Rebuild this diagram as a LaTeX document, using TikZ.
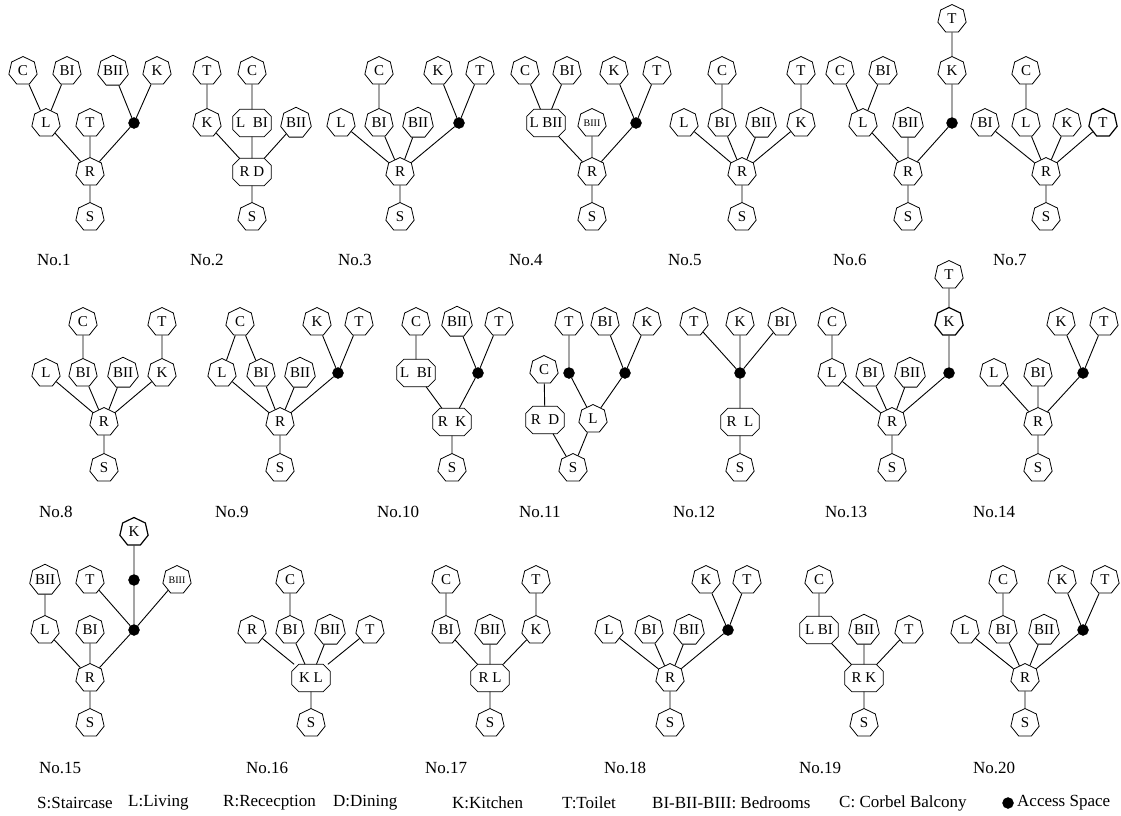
\documentclass[tikz,border=0pt]{standalone}
\usepackage{fontspec}
\setmainfont{Liberation Serif}
\usetikzlibrary{shapes.geometric}
\tikzset{
  rm/.style={regular polygon, regular polygon sides=7, draw, line width=0.8pt, inner sep=0pt, minimum size=29pt, font=\fontsize{15}{15}\selectfont},
  wide/.style={rectangle, inner sep=1.5pt, minimum width=38pt, minimum height=27pt, font=\fontsize{15}{15}\selectfont},
  wideline/.style={line width=0.8pt},
  acc/.style={circle, fill=black, draw=black, inner sep=0pt, minimum size=11pt},
  sm/.style={font=\fontsize{10}{10}\selectfont},
  bold/.style={line width=1.2pt},
  lab/.style={anchor=west, inner sep=0pt, font=\fontsize{17}{17}\selectfont},
  leg/.style={anchor=west, inner sep=0pt, font=\fontsize{17}{17}\selectfont},
  edge/.style={line width=0.9pt}
}
\begin{document}
\begin{tikzpicture}[x=1pt,y=-1pt]
\useasboundingbox (0,0) rectangle (1121,816);
% ---------- No.1
\node[rm] (aC) at (23,71) {C};
\node[rm] (aBI) at (67,71) {BI};
\node[rm] (aBII) at (113,71) {BII};
\node[rm] (aK) at (157,71) {K};
\node[rm] (aL) at (46,123) {L};
\node[rm] (aT) at (90,123) {T};
\node[acc] (aX) at (134,123) {};
\node[rm] (aR) at (90,172) {R};
\node[rm] (aS) at (90,217) {S};
\draw[edge] (aC)--(aL) (aBI)--(aL) (aBII)--(aX) (aK)--(aX) (aL)--(aR) (aT)--(aR) (aX)--(aR) (aR)--(aS);
\node[lab] (la) at (37,260) {No.1};
% ---------- No.2
\node[rm] (bT) at (207,71) {T};
\node[rm] (bC) at (252,71) {C};
\node[rm] (bK) at (207,123) {K};
\node[wide] (bLB) at (252,123) {L\ \ BI};
\node[rm] (bBII) at (296,123) {BII};
\node[wide] (bRD) at (252,172) {R D};
\node[rm] (bS) at (252,217) {S};
\draw[edge] (bT)--(bK) (bC)--(bLB) (bK)--(bRD) (bLB)--(bRD) (bBII)--(bRD) (bRD)--(bS);
\node[lab] (lb) at (190,260) {No.2};
% ---------- No.3
\node[rm] (cC) at (379,71) {C};
\node[rm] (cK) at (438,71) {K};
\node[rm] (cT) at (480,71) {T};
\node[rm] (cL) at (341,123) {L};
\node[rm] (cBI) at (379,123) {BI};
\node[rm] (cBII) at (418,123) {BII};
\node[acc] (cX) at (459,123) {};
\node[rm] (cR) at (400,172) {R};
\node[rm] (cS) at (400,217) {S};
\draw[edge] (cC)--(cBI) (cK)--(cX) (cT)--(cX) (cL)--(cR) (cBI)--(cR) (cBII)--(cR) (cX)--(cR) (cR)--(cS);
\node[lab] (lc) at (338,260) {No.3};
% ---------- No.4
\node[rm] (dC) at (525,71) {C};
\node[rm] (dBI) at (567,71) {BI};
\node[rm] (dK) at (614,71) {K};
\node[rm] (dT) at (657,71) {T};
\node[wide] (dLB) at (546,123) {L BII};
\node[rm,sm] (dBIII) at (592,123) {BIII};
\node[acc] (dX) at (636,123) {};
\node[rm] (dR) at (592,172) {R};
\node[rm] (dS) at (592,217) {S};
\draw[edge] (dC)--(dLB) (dBI)--(dLB) (dK)--(dX) (dT)--(dX) (dLB)--(dR) (dBIII)--(dR) (dX)--(dR) (dR)--(dS);
\node[lab] (ld) at (509,260) {No.4};
% ---------- No.5
\node[rm] (eC) at (722,71) {C};
\node[rm] (eT) at (801,71) {T};
\node[rm] (eL) at (684,123) {L};
\node[rm] (eBI) at (722,123) {BI};
\node[rm] (eBII) at (761,123) {BII};
\node[rm] (eK) at (801,123) {K};
\node[rm] (eR) at (742,172) {R};
\node[rm] (eS) at (742,217) {S};
\draw[edge] (eC)--(eBI) (eT)--(eK) (eL)--(eR) (eBI)--(eR) (eBII)--(eR) (eK)--(eR) (eR)--(eS);
\node[lab] (le) at (668,260) {No.5};
% ---------- No.6
\node[rm] (fT) at (952,19) {T};
\node[rm] (fC) at (840,71) {C};
\node[rm] (fBI) at (883,71) {BI};
\node[rm] (fK) at (952,71) {K};
\node[rm] (fL) at (863,123) {L};
\node[rm] (fBII) at (908,123) {BII};
\node[acc] (fX) at (952,123) {};
\node[rm] (fR) at (908,172) {R};
\node[rm] (fS) at (908,217) {S};
\draw[edge] (fT)--(fK) (fK)--(fX) (fC)--(fL) (fBI)--(fL) (fL)--(fR) (fBII)--(fR) (fX)--(fR) (fR)--(fS);
\node[lab] (lf) at (833,260) {No.6};
% ---------- No.7
\node[rm] (gC) at (1026,71) {C};
\node[rm] (gBI) at (985,123) {BI};
\node[rm] (gL) at (1026,123) {L};
\node[rm] (gK) at (1067,123) {K};
\node[rm,bold] (gT) at (1103,123) {T};
\node[rm] (gR) at (1046,172) {R};
\node[rm] (gS) at (1046,217) {S};
\draw[edge] (gC)--(gL) (gBI)--(gR) (gL)--(gR) (gK)--(gR) (gT)--(gR) (gR)--(gS);
\node[lab] (lg) at (993,260) {No.7};
% ---------- No.8
\node[rm] (hC) at (83,322) {C};
\node[rm] (hT) at (162,322) {T};
\node[rm] (hL) at (46,373) {L};
\node[rm] (hBI) at (83,373) {BI};
\node[rm] (hBII) at (123,373) {BII};
\node[rm] (hK) at (162,373) {K};
\node[rm] (hR) at (104,422) {R};
\node[rm] (hS) at (104,468) {S};
\draw[edge] (hC)--(hBI) (hT)--(hK) (hL)--(hR) (hBI)--(hR) (hBII)--(hR) (hK)--(hR) (hR)--(hS);
\node[lab] (lh) at (39,512) {No.8};
% ---------- No.9
\node[rm] (iC) at (240,322) {C};
\node[rm] (iK) at (317,322) {K};
\node[rm] (iT) at (359,322) {T};
\node[rm] (iL) at (222,373) {L};
\node[rm] (iBI) at (261,373) {BI};
\node[rm] (iBII) at (300,373) {BII};
\node[acc] (iX) at (338,373) {};
\node[rm] (iR) at (280,422) {R};
\node[rm] (iS) at (280,468) {S};
\draw[edge] (iC)--(iL) (iC)--(iBI) (iK)--(iX) (iT)--(iX) (iL)--(iR) (iBI)--(iR) (iBII)--(iR) (iX)--(iR) (iR)--(iS);
\node[lab] (li) at (215,512) {No.9};
% ---------- No.10
\node[rm] (jC) at (416,322) {C};
\node[rm] (jBII) at (457,322) {BII};
\node[rm] (jT) at (499,322) {T};
\node[wide] (jLB) at (416,373) {L\ \ BI};
\node[acc] (jX) at (478,373) {};
\node[wide] (jRK) at (452,422) {R\ \ K};
\node[rm] (jS) at (452,468) {S};
\draw[edge] (jC)--(jLB) (jBII)--(jX) (jT)--(jX) (jLB)--(jRK) (jX)--(jRK) (jRK)--(jS);
\node[lab] (lj) at (377,512) {No.10};
% ---------- No.11
\node[rm] (kT) at (569,322) {T};
\node[rm] (kBI) at (605,322) {BI};
\node[rm] (kK) at (647,322) {K};
\node[rm] (kC) at (544,370) {C};
\node[acc] (kX1) at (569,373) {};
\node[acc] (kX2) at (625,373) {};
\node[wide] (kRD) at (545,420) {R\ \ D};
\node[rm] (kL) at (593,419) {L};
\node[rm] (kS) at (573,468) {S};
\draw[edge] (kT)--(kX1) (kBI)--(kX2) (kK)--(kX2) (kX1)--(kL) (kX2)--(kL) (kC)--(kRD) (kRD)--(kS) (kL)--(kS);
\node[lab] (lk) at (519,512) {No.11};
% ---------- No.12
\node[rm] (lT) at (694,322) {T};
\node[rm] (lK) at (740,322) {K};
\node[rm] (lBI) at (782,322) {BI};
\node[acc] (lX) at (740,373) {};
\node[wide] (lRL) at (740,422) {R\ \ L};
\node[rm] (lS) at (740,468) {S};
\draw[edge] (lT)--(lX) (lK)--(lX) (lBI)--(lX) (lX)--(lRL) (lRL)--(lS);
\node[lab] (ll) at (673,512) {No.12};
% ---------- No.13
\node[rm] (mT) at (949,275) {T};
\node[rm] (mC) at (832,322) {C};
\node[rm,bold] (mK) at (949,322) {K};
\node[rm] (mL) at (832,373) {L};
\node[rm] (mBI) at (870,373) {BI};
\node[rm] (mBII) at (910,373) {BII};
\node[acc] (mX) at (949,373) {};
\node[rm] (mR) at (892,422) {R};
\node[rm] (mS) at (892,468) {S};
\draw[edge] (mT)--(mK) (mK)--(mX) (mC)--(mL) (mL)--(mR) (mBI)--(mR) (mBII)--(mR) (mX)--(mR) (mR)--(mS);
\node[lab] (lm) at (825,512) {No.13};
% ---------- No.14
\node[rm] (nK) at (1061,322) {K};
\node[rm] (nT) at (1104,322) {T};
\node[rm] (nL) at (994,373) {L};
\node[rm] (nBI) at (1038,373) {BI};
\node[acc] (nX) at (1083,373) {};
\node[rm] (nR) at (1038,422) {R};
\node[rm] (nS) at (1038,468) {S};
\draw[edge] (nK)--(nX) (nT)--(nX) (nL)--(nR) (nBI)--(nR) (nX)--(nR) (nR)--(nS);
\node[lab] (ln) at (973,512) {No.14};
% ---------- No.15
\node[rm,bold] (oK) at (134,532) {K};
\node[rm] (oBII) at (45,580) {BII};
\node[rm] (oT) at (90,580) {T};
\node[acc] (oX1) at (134,580) {};
\node[rm,sm] (oBIII) at (177,580) {BIII};
\node[rm] (oL) at (45,630) {L};
\node[rm] (oBI) at (90,630) {BI};
\node[acc] (oX2) at (134,630) {};
\node[rm] (oR) at (90,678) {R};
\node[rm] (oS) at (90,723) {S};
\draw[edge] (oK)--(oX1) (oX1)--(oX2) (oT)--(oX2) (oBIII)--(oX2) (oBII)--(oL) (oL)--(oR) (oBI)--(oR) (oX2)--(oR) (oR)--(oS);
\node[lab] (lo) at (39,768) {No.15};
% ---------- No.16
\node[rm] (pC) at (290,580) {C};
\node[rm] (pR) at (252,630) {R};
\node[rm] (pBI) at (290,630) {BI};
\node[rm] (pBII) at (330,630) {BII};
\node[rm] (pT) at (370,630) {T};
\node[wide] (pKL) at (311,678) {K L};
\node[rm] (pS) at (311,723) {S};
\draw[edge] (pC)--(pBI) (pR)--(pKL) (pBI)--(pKL) (pBII)--(pKL) (pT)--(pKL) (pKL)--(pS);
\node[lab] (lp) at (246,768) {No.16};
% ---------- No.17
\node[rm] (qC) at (446,580) {C};
\node[rm] (qT) at (536,580) {T};
\node[rm] (qBI) at (446,630) {BI};
\node[rm] (qBII) at (490,630) {BII};
\node[rm] (qK) at (536,630) {K};
\node[wide] (qRL) at (490,678) {R L};
\node[rm] (qS) at (490,723) {S};
\draw[edge] (qC)--(qBI) (qT)--(qK) (qBI)--(qRL) (qBII)--(qRL) (qK)--(qRL) (qRL)--(qS);
\node[lab] (lq) at (425,768) {No.17};
% ---------- No.18
\node[rm] (rK) at (706,580) {K};
\node[rm] (rT) at (747,580) {T};
\node[rm] (rL) at (609,630) {L};
\node[rm] (rBI) at (649,630) {BI};
\node[rm] (rBII) at (689,630) {BII};
\node[acc] (rX) at (728,630) {};
\node[rm] (rR) at (670,678) {R};
\node[rm] (rS) at (670,723) {S};
\draw[edge] (rK)--(rX) (rT)--(rX) (rL)--(rR) (rBI)--(rR) (rBII)--(rR) (rX)--(rR) (rR)--(rS);
\node[lab] (lr) at (604,768) {No.18};
% ---------- No.19
\node[rm] (sC) at (819,580) {C};
\node[wide] (sLB) at (819,630) {L BI};
\node[rm] (sBII) at (864,630) {BII};
\node[rm] (sT) at (909,630) {T};
\node[wide] (sRK) at (864,678) {R K};
\node[rm] (sS) at (864,723) {S};
\draw[edge] (sC)--(sLB) (sLB)--(sRK) (sBII)--(sRK) (sT)--(sRK) (sRK)--(sS);
\node[lab] (ls) at (799,768) {No.19};
% ---------- No.20
\node[rm] (tC) at (1003,580) {C};
\node[rm] (tK) at (1062,580) {K};
\node[rm] (tT) at (1105,580) {T};
\node[rm] (tL) at (965,630) {L};
\node[rm] (tBI) at (1003,630) {BI};
\node[rm] (tBII) at (1044,630) {BII};
\node[acc] (tX) at (1083,630) {};
\node[rm] (tR) at (1025,678) {R};
\node[rm] (tS) at (1025,723) {S};
\draw[edge] (tC)--(tBI) (tK)--(tX) (tT)--(tX) (tL)--(tR) (tBI)--(tR) (tBII)--(tR) (tX)--(tR) (tR)--(tS);
\node[lab] (lt) at (973,768) {No.20};
% ---------- octagon outlines of the double rooms
\foreach \n in {bLB,bRD,dLB,jLB,jRK,kRD,lRL,pKL,qRL,sLB,sRK}{
  \draw[wideline] ([xshift=7pt]\n.north west) -- ([xshift=-7pt]\n.north east)
    -- ([yshift=-7pt]\n.north east) -- ([yshift=7pt]\n.south east)
    -- ([xshift=-7pt]\n.south east) -- ([xshift=7pt]\n.south west)
    -- ([yshift=7pt]\n.south west) -- ([yshift=-7pt]\n.north west) -- cycle;
}
% ---------- legend
\node[leg] (g1) at (37,803) {S:Staircase};
\node[leg] (g2) at (128,803) {L:Living};
\node[leg] (g3) at (223,803) {R:Rececption};
\node[leg] (g4) at (333,803) {D:Dining};
\node[leg] (g5) at (452,803) {K:Kitchen};
\node[leg] (g6) at (562,803) {T:Toilet};
\node[leg] (g7) at (652,803) {BI-BII-BIII: Bedrooms};
\node[leg] (g8) at (839,803) {C: Corbel Balcony};
\node[acc, minimum size=11pt] (gdot) at (1008,803) {};
\node[leg] (g9) at (1017,803) {Access Space};
\end{tikzpicture}
\end{document}
